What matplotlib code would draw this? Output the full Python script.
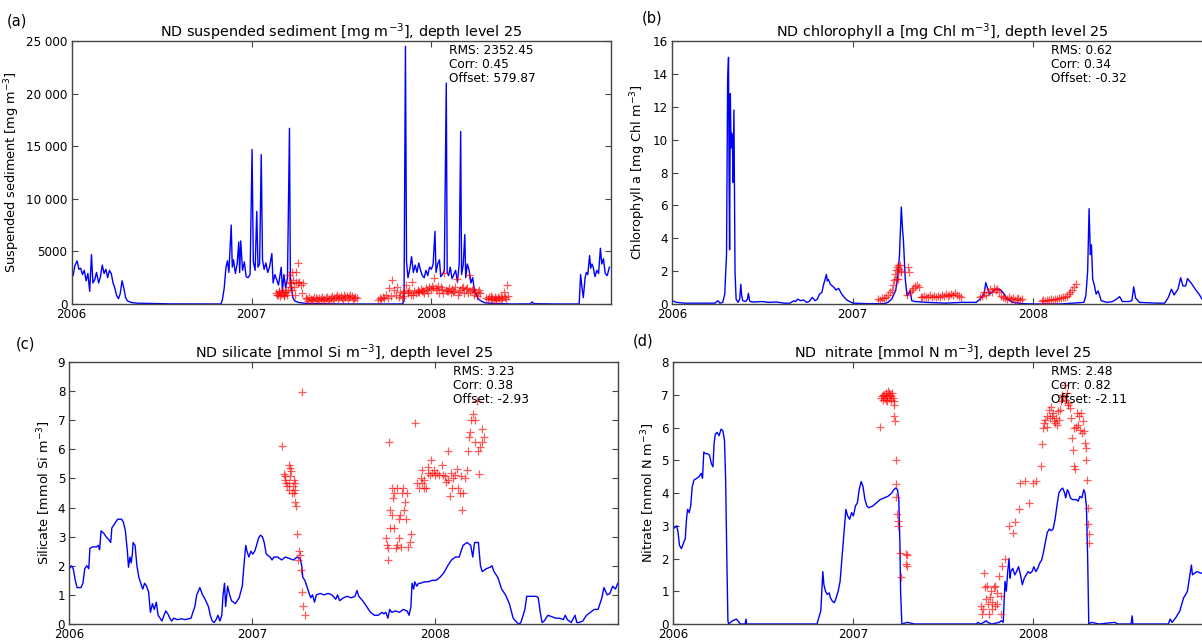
import numpy as np
import matplotlib.pyplot as plt

# Zeitachse in Dezimaljahren
year_ticks = [2006, 2007, 2008]
year_labels = ["2006", "2007", "2008"]

# (a) Schwebstoff: Modell (Linie) und Messungen (Kreuze)
sed_model = [
    (2006.000, 3000), (2006.008, 2700), (2006.017, 3600), (2006.030, 4100), (2006.040, 3300),
    (2006.050, 3400), (2006.060, 2800), (2006.070, 3200), (2006.080, 2200), (2006.090, 2900),
    (2006.100, 1200), (2006.110, 4700), (2006.118, 2000), (2006.128, 2300), (2006.138, 3000),
    (2006.150, 2000), (2006.160, 2600), (2006.170, 3700), (2006.180, 2900), (2006.190, 3300),
    (2006.200, 2500), (2006.210, 3200), (2006.220, 2900), (2006.230, 2000), (2006.240, 1500),
    (2006.250, 800), (2006.260, 500), (2006.270, 1000), (2006.280, 2200), (2006.290, 1500),
    (2006.300, 600), (2006.310, 300), (2006.330, 150), (2006.360, 80), (2006.420, 60),
    (2006.500, 30), (2006.550, 10), (2006.830, 0), (2006.838, 400), (2006.848, 1500),
    (2006.858, 3500), (2006.866, 4100), (2006.874, 3000), (2006.887, 7500), (2006.893, 3500),
    (2006.900, 4200), (2006.910, 2900), (2006.920, 3800), (2006.929, 5900), (2006.934, 3000),
    (2006.940, 6000), (2006.950, 3200), (2006.960, 4000), (2006.970, 2600), (2006.980, 2500),
    (2006.992, 2800), (2007.003, 14700), (2007.010, 4000), (2007.020, 3200), (2007.029, 8800),
    (2007.036, 3500), (2007.045, 3800), (2007.054, 14200), (2007.061, 4200), (2007.070, 3300),
    (2007.080, 3900), (2007.090, 3000), (2007.100, 3500), (2007.113, 4800), (2007.120, 2000),
    (2007.130, 2800), (2007.140, 2300), (2007.150, 1800), (2007.165, 3500), (2007.172, 1200),
    (2007.180, 2800), (2007.190, 1500), (2007.200, 2500), (2007.211, 16700), (2007.216, 2600),
    (2007.222, 1500), (2007.230, 600), (2007.240, 300), (2007.260, 150), (2007.300, 60),
    (2007.400, 20), (2007.500, 0), (2007.840, 0), (2007.848, 300), (2007.856, 24500),
    (2007.862, 4000), (2007.870, 2500), (2007.880, 3300), (2007.890, 4500), (2007.900, 3000),
    (2007.910, 3700), (2007.920, 3000), (2007.930, 3900), (2007.940, 3200), (2007.950, 2700),
    (2007.960, 2500), (2007.970, 3200), (2007.980, 2700), (2007.990, 3500), (2008.000, 3300),
    (2008.010, 3800), (2008.020, 6900), (2008.026, 3000), (2008.035, 3800), (2008.045, 4200),
    (2008.052, 2600), (2008.062, 2800), (2008.072, 3200), (2008.083, 21000), (2008.088, 3000),
    (2008.096, 2700), (2008.105, 3500), (2008.115, 2400), (2008.125, 2800), (2008.135, 3200),
    (2008.145, 2100), (2008.155, 3800), (2008.163, 16400), (2008.168, 2800), (2008.177, 3700),
    (2008.186, 6600), (2008.191, 2500), (2008.200, 3800), (2008.210, 3200), (2008.220, 2000),
    (2008.230, 2500), (2008.240, 1200), (2008.250, 900), (2008.260, 500), (2008.280, 250),
    (2008.300, 100), (2008.350, 50), (2008.450, 0), (2008.550, 10), (2008.560, 200),
    (2008.570, 30), (2008.700, 0), (2008.822, 0), (2008.830, 2800), (2008.836, 1800),
    (2008.845, 600), (2008.855, 2500), (2008.862, 3000), (2008.870, 2800), (2008.880, 4600),
    (2008.886, 3400), (2008.893, 3800), (2008.900, 3500), (2008.910, 2600), (2008.920, 3200),
    (2008.930, 2900), (2008.940, 5300), (2008.948, 3800), (2008.957, 4300), (2008.967, 2900),
    (2008.978, 2700), (2008.990, 3500),
]
sed_obs = [
    (2007.136, 1080), (2007.141, 900), (2007.146, 860), (2007.150, 1250), (2007.155, 1170),
    (2007.160, 800), (2007.164, 950), (2007.169, 1300), (2007.173, 1080), (2007.178, 900),
    (2007.182, 760), (2007.187, 1100), (2007.192, 1170), (2007.196, 850), (2007.201, 1330),
    (2007.206, 2120), (2007.210, 2760), (2007.214, 1650), (2007.219, 1970), (2007.224, 3070),
    (2007.228, 2280), (2007.226, 1300), (2007.237, 1650), (2007.240, 900), (2007.247, 3070),
    (2007.250, 2120), (2007.256, 3930), (2007.261, 2000), (2007.265, 2120), (2007.274, 1800),
    (2007.280, 1080), (2007.284, 2030),
    (2007.302, 600), (2007.311, 450), (2007.316, 300), (2007.320, 700), (2007.330, 500),
    (2007.339, 400), (2007.343, 350), (2007.348, 650), (2007.357, 550), (2007.366, 450),
    (2007.371, 300), (2007.375, 600), (2007.385, 500), (2007.394, 700), (2007.398, 350),
    (2007.403, 450), (2007.412, 550), (2007.421, 650), (2007.426, 300), (2007.430, 500),
    (2007.440, 600), (2007.449, 800), (2007.453, 400), (2007.458, 550), (2007.467, 700),
    (2007.476, 900), (2007.481, 450), (2007.485, 650), (2007.495, 750), (2007.504, 600),
    (2007.508, 400), (2007.513, 850), (2007.522, 700), (2007.531, 800), (2007.536, 450),
    (2007.540, 650), (2007.550, 900), (2007.559, 750), (2007.563, 400), (2007.568, 600),
    (2007.577, 700), (2007.587, 550),
    (2007.704, 400), (2007.713, 600), (2007.722, 500), (2007.730, 700), (2007.739, 550),
    (2007.748, 900), (2007.757, 600), (2007.766, 1500), (2007.774, 800), (2007.781, 2300),
    (2007.792, 1300), (2007.801, 900), (2007.810, 1600), (2007.818, 700), (2007.827, 1100),
    (2007.836, 600),
    (2007.840, 1000), (2007.849, 1200), (2007.858, 1800), (2007.868, 1100), (2007.877, 1300),
    (2007.886, 900), (2007.895, 2100), (2007.904, 1200), (2007.914, 1000), (2007.923, 1300),
    (2007.932, 1100), (2007.941, 1400), (2007.950, 1200), (2007.960, 1000), (2007.969, 1500),
    (2007.978, 1300), (2007.987, 1600), (2007.996, 1400), (2008.006, 1700), (2008.015, 2440),
    (2008.024, 1500), (2008.033, 1300), (2008.042, 1000), (2008.052, 1600), (2008.061, 1400),
    (2008.070, 2900), (2008.079, 1300), (2008.088, 1200), (2008.098, 1500), (2008.107, 1000),
    (2008.116, 1400), (2008.125, 1200), (2008.134, 1600), (2008.144, 2350), (2008.153, 1100),
    (2008.162, 1300), (2008.171, 1500), (2008.180, 1000), (2008.190, 1400), (2008.199, 1500),
    (2008.208, 2760), (2008.217, 1200), (2008.226, 1300), (2008.236, 900), (2008.245, 1100),
    (2008.254, 800), (2008.263, 1300), (2008.272, 1000),
    (2007.845, 800), (2007.872, 1000), (2007.900, 900), (2007.927, 1100), (2007.955, 1200),
    (2007.982, 1000), (2008.010, 1500), (2008.038, 1700), (2008.065, 1000), (2008.093, 1200),
    (2008.120, 1100), (2008.148, 900), (2008.175, 1600), (2008.203, 1000), (2008.230, 1400),
    (2008.258, 1100),
    (2008.306, 600), (2008.314, 500), (2008.322, 700), (2008.330, 450), (2008.334, 800),
    (2008.338, 600), (2008.346, 400), (2008.354, 650), (2008.358, 350), (2008.362, 500),
    (2008.370, 700), (2008.378, 550), (2008.386, 400), (2008.390, 750), (2008.394, 600),
    (2008.402, 1100), (2008.410, 650), (2008.414, 500), (2008.418, 1800), (2008.425, 800),
]

# (b) Chlorophyll a
chl_model = [
    (2006.000, 0.2), (2006.026, 0.1), (2006.068, 0.05), (2006.153, 0.05), (2006.238, 0.05),
    (2006.255, 0.2), (2006.265, 0.05), (2006.281, 0.1), (2006.292, 0.6), (2006.302, 3.0),
    (2006.308, 13.5), (2006.313, 15.0), (2006.316, 8.0), (2006.319, 3.3), (2006.323, 12.8),
    (2006.327, 9.5), (2006.330, 10.4), (2006.334, 10.2), (2006.338, 7.4), (2006.343, 11.8),
    (2006.349, 2.0), (2006.355, 0.3), (2006.366, 0.1), (2006.375, 0.3), (2006.381, 1.2),
    (2006.386, 0.5), (2006.392, 0.2), (2006.408, 0.15), (2006.418, 0.3), (2006.423, 0.65),
    (2006.430, 0.2), (2006.434, 0.15), (2006.451, 0.12), (2006.500, 0.15), (2006.536, 0.1),
    (2006.580, 0.12), (2006.621, 0.05), (2006.653, 0.05), (2006.675, 0.2), (2006.685, 0.15),
    (2006.696, 0.3), (2006.711, 0.2), (2006.728, 0.25), (2006.745, 0.1), (2006.760, 0.15),
    (2006.777, 0.4), (2006.792, 0.2), (2006.805, 0.3), (2006.817, 0.6), (2006.830, 0.7),
    (2006.840, 1.2), (2006.855, 1.8), (2006.860, 1.4), (2006.866, 1.5), (2006.877, 1.2),
    (2006.898, 1.0), (2006.908, 0.85), (2006.923, 0.95), (2006.940, 0.6), (2006.962, 0.3),
    (2006.983, 0.15), (2007.004, 0.05), (2007.089, 0.02), (2007.175, 0.02), (2007.196, 0.1),
    (2007.217, 0.3), (2007.238, 0.8), (2007.249, 1.5), (2007.260, 3.0), (2007.270, 5.9),
    (2007.277, 4.5), (2007.281, 4.0), (2007.292, 1.5), (2007.302, 0.5), (2007.313, 0.65),
    (2007.319, 0.8), (2007.328, 0.2), (2007.345, 0.15), (2007.409, 0.1), (2007.515, 0.05),
    (2007.600, 0.1), (2007.685, 0.1), (2007.706, 0.3), (2007.717, 0.45), (2007.728, 0.6),
    (2007.738, 1.3), (2007.749, 0.9), (2007.760, 0.6), (2007.770, 0.7), (2007.781, 0.8),
    (2007.792, 0.9), (2007.813, 0.9), (2007.834, 0.7), (2007.855, 0.3), (2007.887, 0.1),
    (2007.940, 0.02), (2008.004, 0.0), (2008.153, 0.0), (2008.281, 0.1), (2008.292, 0.5),
    (2008.302, 2.0), (2008.310, 5.8), (2008.317, 3.0), (2008.323, 3.6), (2008.330, 1.5),
    (2008.338, 1.2), (2008.349, 0.6), (2008.360, 0.8), (2008.377, 0.2), (2008.409, 0.1),
    (2008.440, 0.15), (2008.462, 0.3), (2008.479, 0.45), (2008.494, 0.15), (2008.530, 0.15),
    (2008.547, 0.2), (2008.557, 1.05), (2008.568, 0.35), (2008.589, 0.1), (2008.685, 0.05),
    (2008.728, 0.05), (2008.749, 0.4), (2008.766, 0.9), (2008.781, 0.55), (2008.802, 0.9),
    (2008.817, 1.6), (2008.830, 1.1), (2008.845, 1.1), (2008.855, 1.55), (2008.877, 1.25),
    (2008.898, 0.9), (2008.919, 0.6), (2008.935, 0.3), (2008.960, 0.25), (2008.990, 0.2),
]
chl_obs = [
    (2007.143, 0.28), (2007.153, 0.25), (2007.164, 0.35), (2007.175, 0.38), (2007.185, 0.45),
    (2007.196, 0.55), (2007.206, 0.7), (2007.217, 0.85), (2007.223, 1.15), (2007.230, 1.45),
    (2007.234, 1.85), (2007.238, 2.05), (2007.245, 2.25), (2007.251, 2.35), (2007.255, 2.15),
    (2007.260, 2.4), (2007.266, 2.0), (2007.270, 1.95), (2007.238, 1.55), (2007.249, 1.5),
    (2007.302, 0.55), (2007.309, 2.25), (2007.313, 1.95), (2007.319, 0.7), (2007.328, 0.85),
    (2007.334, 1.0), (2007.345, 1.1), (2007.355, 1.15), (2007.366, 1.05),
    (2007.377, 0.45), (2007.387, 0.4), (2007.398, 0.5), (2007.409, 0.45), (2007.419, 0.4),
    (2007.430, 0.55), (2007.440, 0.45), (2007.451, 0.5), (2007.462, 0.4), (2007.472, 0.5),
    (2007.483, 0.45), (2007.494, 0.55), (2007.504, 0.5), (2007.515, 0.6), (2007.526, 0.5),
    (2007.536, 0.55), (2007.547, 0.6), (2007.557, 0.55), (2007.568, 0.65), (2007.579, 0.55),
    (2007.589, 0.5), (2007.600, 0.4),
    (2007.706, 0.45), (2007.717, 0.5), (2007.728, 0.7), (2007.738, 0.55), (2007.749, 0.75),
    (2007.760, 0.9), (2007.770, 0.7), (2007.781, 1.0), (2007.792, 0.85), (2007.802, 0.9),
    (2007.813, 0.7),
    (2007.823, 0.5), (2007.834, 0.4), (2007.845, 0.35), (2007.855, 0.3), (2007.866, 0.4),
    (2007.877, 0.3), (2007.887, 0.35), (2007.898, 0.25), (2007.909, 0.3), (2007.919, 0.35),
    (2007.930, 0.25), (2007.940, 0.3),
    (2008.047, 0.2), (2008.057, 0.25), (2008.068, 0.2), (2008.079, 0.25), (2008.089, 0.25),
    (2008.100, 0.3), (2008.111, 0.25), (2008.121, 0.3), (2008.132, 0.3), (2008.143, 0.35),
    (2008.153, 0.35), (2008.164, 0.4), (2008.174, 0.45), (2008.185, 0.5), (2008.196, 0.6),
    (2008.206, 0.7), (2008.217, 0.85), (2008.228, 1.05), (2008.236, 1.2),
]

# (c) Silikat
si_model = [
    (2006.000, 1.9), (2006.011, 2.0), (2006.021, 1.9), (2006.032, 1.5), (2006.042, 1.25),
    (2006.063, 1.25), (2006.074, 1.4), (2006.084, 1.9), (2006.095, 2.0), (2006.106, 1.9),
    (2006.112, 2.6), (2006.127, 2.65), (2006.148, 2.65), (2006.158, 2.7), (2006.165, 2.55),
    (2006.173, 3.2), (2006.190, 3.1), (2006.200, 3.0), (2006.215, 2.9), (2006.226, 2.8),
    (2006.232, 3.3), (2006.243, 3.4), (2006.253, 3.5), (2006.264, 3.6), (2006.285, 3.6),
    (2006.295, 3.5), (2006.306, 3.2), (2006.317, 2.5), (2006.323, 1.95), (2006.331, 2.3),
    (2006.338, 2.1), (2006.344, 2.4), (2006.348, 2.8), (2006.359, 2.7), (2006.369, 2.0),
    (2006.380, 1.6), (2006.390, 1.4), (2006.401, 1.2), (2006.411, 1.4), (2006.422, 1.3),
    (2006.433, 1.1), (2006.443, 0.4), (2006.454, 0.7), (2006.464, 0.5), (2006.475, 0.75),
    (2006.485, 0.3), (2006.496, 0.2), (2006.506, 0.1), (2006.517, 0.3), (2006.527, 0.45),
    (2006.538, 0.35), (2006.549, 0.2), (2006.559, 0.1), (2006.570, 0.2), (2006.591, 0.15),
    (2006.612, 0.18), (2006.633, 0.15), (2006.665, 0.2), (2006.675, 0.4), (2006.686, 0.6),
    (2006.696, 1.0), (2006.713, 1.25), (2006.728, 1.0), (2006.738, 0.9), (2006.760, 0.6),
    (2006.770, 0.3), (2006.781, 0.1), (2006.791, 0.05), (2006.802, 0.15), (2006.812, 0.3),
    (2006.823, 0.1), (2006.833, 0.3), (2006.840, 1.0), (2006.848, 1.4), (2006.854, 0.6),
    (2006.865, 1.3), (2006.876, 1.0), (2006.886, 0.8), (2006.907, 0.7), (2006.928, 0.9),
    (2006.945, 1.3), (2006.954, 2.0), (2006.964, 2.7), (2006.971, 2.5), (2006.981, 2.3),
    (2006.992, 2.5), (2007.002, 2.4), (2007.013, 2.5), (2007.023, 2.7), (2007.034, 2.95),
    (2007.044, 3.05), (2007.055, 3.0), (2007.065, 2.8), (2007.076, 2.4), (2007.097, 2.3),
    (2007.108, 2.2), (2007.118, 2.3), (2007.139, 2.3), (2007.160, 2.2), (2007.181, 2.3),
    (2007.203, 2.25), (2007.224, 2.2), (2007.245, 2.3), (2007.262, 2.25), (2007.270, 2.0),
    (2007.276, 1.6), (2007.287, 1.5), (2007.298, 1.3), (2007.308, 1.1), (2007.319, 0.9),
    (2007.329, 1.0), (2007.340, 0.75), (2007.350, 1.0), (2007.371, 1.05), (2007.392, 1.0),
    (2007.414, 1.05), (2007.435, 1.0), (2007.456, 0.85), (2007.466, 1.0), (2007.477, 0.8),
    (2007.498, 0.9), (2007.519, 0.95), (2007.540, 0.9), (2007.561, 0.95), (2007.572, 1.15),
    (2007.582, 0.95), (2007.603, 0.8), (2007.625, 0.6), (2007.646, 0.4), (2007.667, 0.3),
    (2007.688, 0.3), (2007.709, 0.4), (2007.719, 0.35), (2007.730, 0.4), (2007.741, 0.2),
    (2007.751, 0.5), (2007.762, 0.4), (2007.783, 0.45), (2007.804, 0.4), (2007.825, 0.5),
    (2007.846, 0.45), (2007.857, 0.3), (2007.867, 0.6), (2007.873, 1.4), (2007.882, 1.2),
    (2007.888, 1.45), (2007.899, 1.3), (2007.909, 1.4), (2007.920, 1.4), (2007.941, 1.45),
    (2007.962, 1.45), (2007.983, 1.5), (2008.004, 1.5), (2008.025, 1.6), (2008.046, 1.75),
    (2008.068, 2.0), (2008.089, 2.2), (2008.110, 2.3), (2008.131, 2.3), (2008.141, 2.5),
    (2008.152, 2.7), (2008.173, 2.8), (2008.194, 2.7), (2008.205, 2.3), (2008.215, 2.8),
    (2008.236, 2.8), (2008.247, 2.0), (2008.257, 1.8), (2008.279, 1.9), (2008.300, 1.95),
    (2008.310, 2.0), (2008.321, 1.8), (2008.342, 1.6), (2008.363, 1.2), (2008.384, 1.0),
    (2008.405, 0.7), (2008.426, 0.2), (2008.447, 0.05), (2008.458, 0.0), (2008.468, 0.05),
    (2008.490, 0.5), (2008.500, 0.95), (2008.532, 0.95), (2008.553, 0.95), (2008.563, 0.9),
    (2008.574, 0.4), (2008.584, 0.05), (2008.595, 0.1), (2008.616, 0.3), (2008.637, 0.25),
    (2008.658, 0.2), (2008.679, 0.2), (2008.700, 0.15), (2008.711, 0.3), (2008.722, 0.15),
    (2008.743, 0.05), (2008.764, 0.3), (2008.774, 0.05), (2008.785, 0.05), (2008.806, 0.1),
    (2008.827, 0.3), (2008.848, 0.4), (2008.869, 0.5), (2008.890, 0.5), (2008.911, 0.9),
    (2008.922, 1.25), (2008.940, 1.0), (2008.955, 1.05), (2008.970, 1.3), (2008.985, 1.2),
    (2008.998, 1.4),
]
si_obs = [
    (2007.160, 6.1), (2007.171, 5.16), (2007.177, 5.07), (2007.181, 4.96), (2007.186, 4.85),
    (2007.192, 4.74), (2007.198, 4.62), (2007.203, 4.85), (2007.207, 5.07), (2007.213, 5.24),
    (2007.207, 5.35), (2007.203, 5.47), (2007.219, 4.51), (2007.224, 4.74), (2007.228, 4.96),
    (2007.234, 4.85), (2007.234, 4.62), (2007.230, 4.51), (2007.236, 4.2), (2007.241, 4.06),
    (2007.245, 3.1), (2007.255, 2.5), (2007.262, 2.36), (2007.249, 2.2), (2007.266, 1.85),
    (2007.272, 7.97), (2007.272, 1.09), (2007.279, 0.61), (2007.287, 0.3),
    (2007.730, 2.97), (2007.736, 2.72), (2007.741, 2.19), (2007.747, 6.25), (2007.741, 2.6),
    (2007.751, 3.3), (2007.755, 3.9), (2007.762, 3.73), (2007.762, 4.68), (2007.768, 4.34),
    (2007.772, 3.3), (2007.776, 4.5), (2007.783, 2.6), (2007.789, 2.72), (2007.793, 4.68),
    (2007.800, 3.61), (2007.804, 2.94), (2007.810, 3.73), (2007.814, 2.66), (2007.819, 4.5),
    (2007.825, 4.68), (2007.831, 3.9), (2007.835, 4.18), (2007.840, 3.61), (2007.846, 4.5),
    (2007.852, 2.66), (2007.861, 2.8), (2007.867, 3.1), (2007.888, 6.89), (2007.899, 4.85),
    (2007.909, 4.68), (2007.920, 5.02), (2007.926, 5.3), (2007.930, 4.85), (2007.937, 4.68),
    (2007.941, 4.96), (2007.952, 4.68), (2007.958, 5.41), (2007.962, 5.19), (2007.973, 5.13),
    (2007.979, 5.63), (2007.983, 5.19), (2007.994, 5.3), (2008.000, 5.13), (2008.008, 5.19),
    (2008.021, 5.13), (2008.036, 5.47), (2008.042, 5.13), (2008.051, 5.07), (2008.057, 4.87),
    (2008.068, 5.94), (2008.072, 4.96), (2008.078, 4.4), (2008.084, 5.19), (2008.089, 4.68),
    (2008.099, 5.02), (2008.110, 5.13), (2008.120, 5.32), (2008.127, 4.68), (2008.135, 4.5),
    (2008.141, 5.07), (2008.148, 3.92), (2008.152, 4.5), (2008.162, 5.02), (2008.173, 5.3),
    (2008.177, 5.94), (2008.184, 6.42), (2008.190, 6.59), (2008.194, 7.0), (2008.205, 7.2),
    (2008.215, 6.25), (2008.219, 7.0), (2008.230, 7.65), (2008.236, 5.94), (2008.241, 5.16),
    (2008.247, 6.08), (2008.257, 6.7), (2008.268, 6.42), (2008.257, 6.25),
]

# (d) Nitrat
no3_model = [
    (2006.000, 2.9), (2006.011, 2.95), (2006.021, 3.0), (2006.028, 2.8), (2006.036, 2.4),
    (2006.047, 2.3), (2006.060, 2.5), (2006.068, 2.6), (2006.075, 3.2), (2006.081, 3.5),
    (2006.090, 3.4), (2006.098, 3.6), (2006.107, 4.2), (2006.117, 4.4), (2006.132, 4.45),
    (2006.145, 4.5), (2006.156, 4.6), (2006.164, 4.45), (2006.171, 5.25), (2006.181, 5.2),
    (2006.192, 5.2), (2006.203, 5.15), (2006.213, 4.9), (2006.222, 4.8), (2006.228, 5.5),
    (2006.235, 5.8), (2006.245, 5.85), (2006.256, 5.75), (2006.267, 5.95), (2006.277, 5.9),
    (2006.286, 5.6), (2006.292, 4.5), (2006.299, 2.0), (2006.305, 0.1), (2006.309, 0.0),
    (2006.320, 0.05), (2006.331, 0.1), (2006.352, 0.15), (2006.367, 0.05), (2006.373, 0.0),
    (2006.401, 0.0), (2006.405, 0.15), (2006.409, 0.0), (2006.448, 0.0), (2006.800, 0.0),
    (2006.810, 0.2), (2006.821, 0.4), (2006.832, 1.6), (2006.838, 1.2), (2006.847, 1.0),
    (2006.857, 0.9), (2006.868, 0.95), (2006.874, 0.8), (2006.885, 0.7), (2006.896, 0.65),
    (2006.906, 0.8), (2006.917, 1.0), (2006.928, 1.3), (2006.938, 2.0), (2006.949, 2.8),
    (2006.960, 3.5), (2006.970, 3.3), (2006.981, 3.2), (2006.992, 3.4), (2007.002, 3.3),
    (2007.013, 3.6), (2007.024, 3.7), (2007.034, 4.1), (2007.045, 4.35), (2007.055, 4.2),
    (2007.066, 3.8), (2007.077, 3.6), (2007.087, 3.55), (2007.109, 3.6), (2007.130, 3.7),
    (2007.151, 3.8), (2007.173, 3.85), (2007.194, 3.9), (2007.215, 4.0), (2007.226, 4.1),
    (2007.237, 4.15), (2007.247, 4.1), (2007.254, 3.8), (2007.260, 2.5), (2007.264, 1.0),
    (2007.271, 0.0), (2007.301, 0.05), (2007.343, 0.0), (2007.684, 0.0), (2007.695, 0.05),
    (2007.706, 0.0), (2007.727, 0.05), (2007.738, 0.1), (2007.748, 0.05), (2007.770, 0.0),
    (2007.812, 0.05), (2007.823, 0.1), (2007.834, 0.05), (2007.838, 0.6), (2007.844, 1.3),
    (2007.851, 1.0), (2007.859, 1.6), (2007.866, 2.0), (2007.872, 1.4), (2007.876, 1.6),
    (2007.887, 1.7), (2007.898, 1.5), (2007.908, 1.6), (2007.919, 1.75), (2007.930, 1.5),
    (2007.940, 1.2), (2007.951, 1.4), (2007.962, 1.5), (2007.972, 1.6), (2007.983, 1.55),
    (2007.994, 1.6), (2008.004, 1.75), (2008.015, 1.6), (2008.026, 1.7), (2008.036, 1.85),
    (2008.047, 1.95), (2008.058, 2.2), (2008.068, 2.5), (2008.079, 2.8), (2008.090, 2.9),
    (2008.100, 2.85), (2008.111, 2.9), (2008.122, 3.2), (2008.132, 3.6), (2008.143, 4.0),
    (2008.154, 4.1), (2008.164, 4.15), (2008.175, 4.0), (2008.181, 3.85), (2008.190, 4.1),
    (2008.196, 4.05), (2008.207, 3.85), (2008.218, 3.8), (2008.239, 3.8), (2008.250, 3.75),
    (2008.260, 3.9), (2008.271, 3.85), (2008.281, 4.1), (2008.288, 4.0), (2008.296, 3.6),
    (2008.303, 2.0), (2008.309, 0.0), (2008.324, 0.05), (2008.367, 0.0), (2008.452, 0.05),
    (2008.473, 0.0), (2008.544, 0.0), (2008.550, 0.25), (2008.554, 0.0), (2008.751, 0.0),
    (2008.761, 0.15), (2008.772, 0.05), (2008.793, 0.2), (2008.804, 0.3), (2008.815, 0.4),
    (2008.825, 0.6), (2008.836, 0.8), (2008.847, 0.9), (2008.857, 1.0), (2008.868, 1.4),
    (2008.879, 1.8), (2008.885, 1.5), (2008.896, 1.55), (2008.910, 1.6), (2008.932, 1.55),
    (2008.960, 1.6), (2008.990, 1.55),
]
no3_obs = [
    (2007.151, 6.03), (2007.156, 6.9), (2007.162, 6.95), (2007.167, 6.85), (2007.167, 7.0),
    (2007.173, 7.0), (2007.178, 6.9), (2007.183, 7.05), (2007.183, 6.85), (2007.189, 6.95),
    (2007.189, 6.8), (2007.194, 7.1), (2007.199, 6.9), (2007.199, 7.05), (2007.205, 7.0),
    (2007.210, 6.85), (2007.210, 6.95), (2007.215, 7.05), (2007.220, 6.9), (2007.226, 6.8),
    (2007.226, 6.7), (2007.230, 6.34), (2007.232, 6.19), (2007.237, 5.02), (2007.237, 4.26),
    (2007.241, 3.87), (2007.243, 3.35), (2007.247, 3.14), (2007.252, 2.99), (2007.258, 2.18),
    (2007.264, 1.42), (2007.294, 2.13), (2007.301, 2.1), (2007.294, 1.83), (2007.301, 1.77),
    (2007.710, 0.56), (2007.716, 0.3), (2007.723, 0.46), (2007.727, 1.57), (2007.734, 1.12),
    (2007.738, 0.76), (2007.744, 1.17), (2007.748, 0.61), (2007.753, 0.3), (2007.759, 0.81),
    (2007.766, 1.01), (2007.770, 0.46), (2007.774, 0.66), (2007.780, 1.12), (2007.787, 0.56),
    (2007.791, 1.17), (2007.797, 0.61), (2007.802, 0.96), (2007.812, 1.47), (2007.819, 0.3),
    (2007.823, 0.86), (2007.829, 1.77), (2007.844, 1.98),
    (2007.866, 2.99), (2007.887, 2.79), (2007.902, 3.12), (2007.919, 3.5), (2007.925, 4.31),
    (2007.955, 4.36), (2007.979, 3.7), (2008.000, 4.31), (2008.015, 4.38), (2008.043, 4.82),
    (2008.047, 5.5), (2008.053, 5.98), (2008.058, 6.14), (2008.068, 6.24), (2008.075, 6.34),
    (2008.079, 6.03), (2008.090, 6.54), (2008.094, 6.29), (2008.100, 6.64), (2008.107, 6.34),
    (2008.111, 6.44), (2008.117, 6.19), (2008.122, 6.14), (2008.128, 6.29), (2008.132, 6.08),
    (2008.139, 6.49), (2008.143, 6.24), (2008.149, 6.52), (2008.154, 6.8), (2008.160, 7.0),
    (2008.164, 6.93), (2008.175, 7.3), (2008.179, 6.85), (2008.186, 7.05), (2008.192, 6.74),
    (2008.196, 6.69), (2008.207, 6.59), (2008.213, 6.29), (2008.218, 5.68), (2008.222, 5.32),
    (2008.228, 4.82), (2008.232, 4.72), (2008.228, 5.98), (2008.239, 6.03), (2008.243, 6.44),
    (2008.250, 6.08), (2008.256, 6.34), (2008.260, 5.93), (2008.264, 6.44), (2008.271, 5.83),
    (2008.277, 6.19), (2008.281, 5.88), (2008.286, 5.53), (2008.292, 5.38), (2008.296, 5.02),
    (2008.299, 4.41), (2008.303, 3.55), (2008.307, 3.04), (2008.309, 2.74), (2008.309, 2.48),
]

titles = [
    "ND suspended sediment [mg m$^{-3}$], depth level 25",
    "ND chlorophyll a [mg Chl m$^{-3}$], depth level 25",
    "ND silicate [mmol Si m$^{-3}$], depth level 25",
    "ND  nitrate [mmol N m$^{-3}$], depth level 25",
]
ylabels = [
    "Suspended sediment [mg m$^{-3}$]",
    "Chlorophyll a [mg Chl m$^{-3}$]",
    "Silicate [mmol Si m$^{-3}$]",
    "Nitrate [mmol N m$^{-3}$]",
]
stats = [
    "RMS: 2352.45\nCorr: 0.45\nOffset: 579.87",
    "RMS: 0.62\nCorr: 0.34\nOffset: -0.32",
    "RMS: 3.23\nCorr: 0.38\nOffset: -2.93",
    "RMS: 2.48\nCorr: 0.82\nOffset: -2.11",
]
panel_tags = ["(a)", "(b)", "(c)", "(d)"]
ytick_values = [
    [0, 5000, 10000, 15000, 20000, 25000],
    [0, 2, 4, 6, 8, 10, 12, 14, 16],
    [0, 1, 2, 3, 4, 5, 6, 7, 8, 9],
    [0, 1, 2, 3, 4, 5, 6, 7, 8],
]
ytick_labels = [
    ["0", "5000", "10 000", "15 000", "20 000", "25 000"],
    None, None, None,
]
models = [sed_model, chl_model, si_model, no3_model]
observations = [sed_obs, chl_obs, si_obs, no3_obs]

# Lage der Achsen in Pixeln: links, oben, rechts, unten (b und d laufen rechts aus dem Bild)
W, H = 1202, 641
boxes_px = [(71.7, 41, 611, 304), (672, 41, 1213.5, 304),
            (69.4, 362, 618, 624), (673, 362, 1213, 624)]
tag_px = [(17, 21), (652, 18), (25, 344), (643, 341)]

fig = plt.figure(figsize=(W / 100, H / 100), dpi=100)

for i in range(4):
    l, t, r, b = boxes_px[i]
    ax = fig.add_axes([l / W, 1 - b / H, (r - l) / W, (b - t) / H])

    mt, mv = zip(*models[i])
    ot, ov = zip(*observations[i])
    ax.plot(mt, mv, color="blue", lw=1.0, zorder=2)
    ax.plot(ot, ov, linestyle="none", marker="+", color="red", ms=6, mew=0.9,
            alpha=0.65, zorder=3)

    ax.set_xlim(2006, 2008.999)
    ax.set_ylim(ytick_values[i][0], ytick_values[i][-1])
    ax.set_xticks(year_ticks)
    ax.set_xticklabels(year_labels)
    ax.set_yticks(ytick_values[i])
    if ytick_labels[i] is not None:
        ax.set_yticklabels(ytick_labels[i])

    ax.tick_params(direction="in", top=True, right=True, length=4, width=0.8,
                   labelsize=8.6, pad=3, color="#444444")
    for sp in ax.spines.values():
        sp.set_linewidth(1.0)
        sp.set_color("#444444")

    ax.set_title(titles[i], fontsize=10.4, pad=3)
    ax.set_ylabel(ylabels[i], fontsize=9.3, labelpad=3)
    ax.text(0.70, 0.988, stats[i], transform=ax.transAxes, ha="left", va="top",
            fontsize=8.7, linespacing=1.1, zorder=4)

    tx, ty = tag_px[i]
    fig.text(tx / W, 1 - ty / H, panel_tags[i], ha="center", va="center", fontsize=10.5)

fig.savefig("out.png", dpi=100)
